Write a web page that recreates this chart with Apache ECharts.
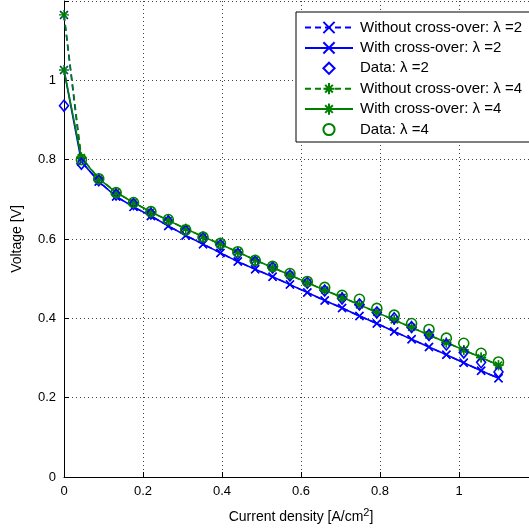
<!DOCTYPE html>
<html>
<head>
<meta charset="utf-8">
<script src="https://cdn.jsdelivr.net/npm/echarts@6/dist/echarts.min.js"></script>
<style>html,body{margin:0;padding:0;background:#fff;}#c{width:529px;height:529px;}</style>
</head>
<body>
<div id="c"></div>
<script>
const currentDensity = [0, 0.044, 0.088, 0.132, 0.176, 0.22, 0.264, 0.308, 0.352, 0.396, 0.44, 0.484, 0.528, 0.572, 0.616, 0.66, 0.704, 0.748, 0.792, 0.836, 0.88, 0.924, 0.968, 1.012, 1.056, 1.1];
const withoutCross2 = [1.165, 0.795, 0.745, 0.707, 0.681, 0.658, 0.633, 0.609, 0.587, 0.565, 0.543, 0.524, 0.505, 0.485, 0.465, 0.445, 0.426, 0.406, 0.387, 0.367, 0.347, 0.328, 0.308, 0.288, 0.268, 0.249];
const withCross2 = [1.026, 0.795, 0.745, 0.707, 0.681, 0.658, 0.633, 0.609, 0.587, 0.565, 0.543, 0.524, 0.505, 0.485, 0.465, 0.445, 0.426, 0.406, 0.387, 0.367, 0.347, 0.328, 0.308, 0.288, 0.268, 0.249];
const data2 = [0.936, 0.790, 0.748, 0.712, 0.688, 0.664, 0.645, 0.621, 0.602, 0.585, 0.563, 0.543, 0.528, 0.508, 0.490, 0.470, 0.450, 0.435, 0.415, 0.400, 0.378, 0.358, 0.334, 0.314, 0.289, 0.265];
const withoutCross4 = [1.165, 0.806, 0.753, 0.718, 0.692, 0.668, 0.647, 0.626, 0.606, 0.587, 0.567, 0.547, 0.528, 0.509, 0.490, 0.471, 0.453, 0.434, 0.415, 0.396, 0.377, 0.358, 0.339, 0.320, 0.301, 0.282];
const withCross4 = [1.026, 0.805, 0.752, 0.717, 0.692, 0.668, 0.647, 0.626, 0.606, 0.587, 0.567, 0.547, 0.528, 0.509, 0.490, 0.471, 0.453, 0.434, 0.415, 0.396, 0.377, 0.358, 0.339, 0.320, 0.301, 0.282];
const data4 = [null, 0.800, 0.752, 0.717, 0.692, 0.669, 0.649, 0.623, 0.605, 0.589, 0.568, 0.546, 0.531, 0.513, 0.493, 0.478, 0.458, 0.448, 0.425, 0.408, 0.387, 0.372, 0.350, 0.337, 0.312, 0.290];
const seriesNames = ['Without cross-over: \u03bb =2', 'With cross-over: \u03bb =2', 'Data: \u03bb =2', 'Without cross-over: \u03bb =4', 'With cross-over: \u03bb =4', 'Data: \u03bb =4'];

const BLUE = '#0000ff', GREEN = '#008000';
const XMARK = 'path://M0,0L10,10M10,0L0,10';
const STAR = 'path://M5,0L5,10M0,5L10,5M1.6,1.6L8.4,8.4M8.4,1.6L1.6,8.4';
const pairs = ys => currentDensity.map((x, i) => [x, ys[i]]);

function lineSeries(name, ys, color, dashed, symbol, size) {
  return {
    name, type: 'line', data: pairs(ys), symbol, symbolSize: size,
    lineStyle: { color, width: 1.6, type: dashed ? [6, 4] : 'solid' },
    itemStyle: { color, borderColor: color, borderWidth: 1.4 },
    z: 2
  };
}
function dataSeries(name, ys, color, symbol, size) {
  return {
    name, type: 'line', data: pairs(ys).filter(p => p[1] != null), symbol, symbolSize: size,
    lineStyle: { width: 0, opacity: 0, color },
    itemStyle: { color: 'rgba(255,255,255,0)', borderColor: color, borderWidth: 1.6 },
    z: 3
  };
}

const chart = echarts.init(document.getElementById('c'), null, { renderer: 'canvas' });
const fmt = v => (v > 1.15 ? '' : String(+v.toFixed(1)));
const FONT = 'Liberation Sans, Arial, sans-serif';
chart.setOption({
  animation: false,
  backgroundColor: '#fff',
  textStyle: { fontFamily: FONT },
  grid: { left: 64, top: 1, width: 474, height: 476, outerBoundsMode: 'none', containLabel: false },
  xAxis: {
    type: 'value', min: 0, max: 1.2, interval: 0.2,
    name: 'Current density [A/cm{sup|2}]', nameLocation: 'middle', nameGap: 30,
    nameTextStyle: { color: '#000', fontSize: 14, fontFamily: FONT,
      rich: { sup: { fontSize: 11, padding: [0, 0, 9, 0], color: '#000', fontFamily: FONT } } },
    axisLine: { lineStyle: { color: '#000', width: 1 } },
    axisTick: { inside: true, length: 5, lineStyle: { color: '#000' } },
    axisLabel: { color: '#000', fontSize: 13, margin: 8, formatter: fmt },
    splitLine: { show: true, lineStyle: { color: '#444', type: [1, 3], width: 1 } }
  },
  yAxis: {
    type: 'value', min: 0, max: 1.2, interval: 0.2,
    name: 'Voltage [V]', nameLocation: 'middle', nameGap: 40,
    nameTextStyle: { color: '#000', fontSize: 14 },
    axisLine: { show: true, lineStyle: { color: '#000', width: 1 } },
    axisTick: { show: true, inside: true, length: 5, lineStyle: { color: '#000' } },
    axisLabel: { color: '#000', fontSize: 13, margin: 8, formatter: fmt },
    splitLine: { show: true, lineStyle: { color: '#444', type: [1, 3], width: 1 } }
  },
  legend: {
    orient: 'vertical', left: 296, top: 12,
    itemWidth: 48, itemHeight: 14, itemGap: 5.4,
    padding: [8, 20, 5, 8],
    backgroundColor: '#fff', borderColor: '#000', borderWidth: 1,
    selectedMode: false,
    textStyle: { color: '#000', fontSize: 15, lineHeight: 14, fontFamily: FONT, padding: [0, 0, 0, 2] },
    data: seriesNames
  },
  series: [
    lineSeries(seriesNames[0], withoutCross2, BLUE, true, XMARK, 8),
    lineSeries(seriesNames[1], withCross2, BLUE, false, XMARK, 8),
    dataSeries(seriesNames[2], data2, BLUE, 'diamond', [9, 11]),
    lineSeries(seriesNames[3], withoutCross4, GREEN, true, STAR, 10),
    lineSeries(seriesNames[4], withCross4, GREEN, false, STAR, 10),
    dataSeries(seriesNames[5], data4, GREEN, 'circle', 10)
  ]
});
</script>
</body>
</html>
